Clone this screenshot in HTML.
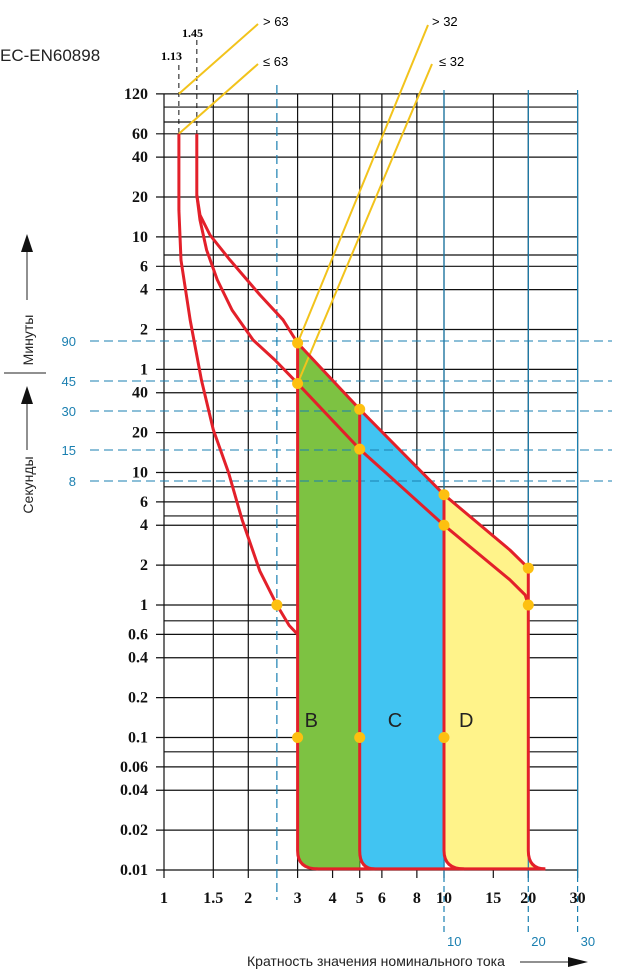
<!DOCTYPE html>
<html><head><meta charset="utf-8"><style>
html,body{margin:0;padding:0;background:#fff;}
svg{display:block;}
.yl{font-family:"Liberation Serif",serif;font-weight:bold;font-size:16px;fill:#111;}
.bl{font-family:"Liberation Sans",sans-serif;font-size:13px;fill:#1a7fb0;}
</style></head><body>
<svg id="chart" width="621" height="970" viewBox="0 0 621 970" xmlns="http://www.w3.org/2000/svg">
<g id="grid"></g>
<g id="fills"></g>
<g id="refs"></g>
<g id="curves"></g>
<g id="dots"></g>
<g id="labels"></g>
<text x="0" y="61" font-family="Liberation Sans, sans-serif" font-size="17" fill="#222">EC-EN60898</text>
<text x="161" y="60" font-family="Liberation Serif, serif" font-weight="bold" font-size="12">1.13</text>
<text x="182" y="37" font-family="Liberation Serif, serif" font-weight="bold" font-size="12">1.45</text>
<text x="263" y="26" font-family="Liberation Sans, sans-serif" font-size="13">&gt; 63</text>
<text x="263" y="66" font-family="Liberation Sans, sans-serif" font-size="13">≤ 63</text>
<text x="432" y="26" font-family="Liberation Sans, sans-serif" font-size="13">&gt; 32</text>
<text x="439" y="66" font-family="Liberation Sans, sans-serif" font-size="13">≤ 32</text>
<text transform="translate(33,340) rotate(-90)" text-anchor="middle" font-family="Liberation Sans, Noto Sans CJK JP, sans-serif" font-size="14" fill="#222">Минуты</text>
<text transform="translate(33,485) rotate(-90)" text-anchor="middle" font-family="Liberation Sans, Noto Sans CJK JP, sans-serif" font-size="14" fill="#222">Секунды</text>
<line x1="4" y1="373" x2="46" y2="373" stroke="#222" stroke-width="1"/>
<line x1="27" y1="300" x2="27" y2="245" stroke="#222"/>
<polygon points="21,252 33,252 27,234" fill="#111"/>
<line x1="27" y1="450" x2="27" y2="398" stroke="#222"/>
<polygon points="21,404 33,404 27,386" fill="#111"/>
<text x="247" y="966" font-family="Liberation Sans, Noto Sans CJK JP, sans-serif" font-size="14" fill="#222">Кратность значения номинального тока</text>
<line x1="520" y1="962" x2="570" y2="962" stroke="#222"/>
<polygon points="568,957 588,962 568,967" fill="#111"/>
</svg>
<script>
const xTicks=[1,1.5,2,3,4,5,6,8,10,15,20,30];
const xTickLabels=["1","1.5","2","3","4","5","6","8","10","15","20","30"];
const yTicks=[7200,3600,2400,1200,600,360,240,120,60,40,20,10,6,4,2,1,0.6,0.4,0.2,0.1,0.06,0.04,0.02,0.01];
const yTickLabels=["120","60","40","20","10","6","4","2","1","40","20","10","6","4","2","1","0.6","0.4","0.2","0.1","0.06","0.04","0.02","0.01"];
const yExtra=[5730,4420,438,7.8,4.7,0.76,0.078];
const refSec=[90,45,30,15,8];
const refSecPx=[341,381,411,450,481];
const refMult=[2.53,10,20,30];
const refMultLabels=["","10","20","30"];
const curveLeft=[[1.13,3600],[1.13,955],[1.15,400],[1.24,141],[1.36,50],[1.5,21],[1.7,10],[1.9,4.4],[2.2,1.8],[2.53,1],[2.8,0.7],[3,0.6]];
const curveUpper=[[1.31,3600],[1.31,1242],[1.345,877],[1.46,620],[1.72,402],[2.2,219],[2.66,142],[3,95],[5,30],[10,6.8],[17.2,2.6],[20,1.9]];
const curveLower=[[1.31,1242],[1.345,805],[1.42,478],[1.55,284],[1.75,168],[2.08,100],[2.49,70.6],[3,47],[5,15],[10,4],[17.2,1.55],[19.5,1.19],[20,1]];
const zoneB=[3,5], zoneC=[5,10], zoneD=[10,20];
const zoneLetters=["B","C","D"];
const dotPts=[[2.53,1],[3,95],[5,30],[10,6.8],[20,1.9],[3,47],[5,15],[10,4],[20,1],[3,0.1],[5,0.1],[10,0.1]];
const tMin=0.0102;

const NS="http://www.w3.org/2000/svg";
const X=v=>164+280*Math.log10(v);
const Y=s=>870-132.5*(Math.log10(s)+2);
function mk(parent,tag,attrs){const e=document.createElementNS(NS,tag);for(const k in attrs)e.setAttribute(k,attrs[k]);parent.appendChild(e);return e;}
const grid=document.getElementById('grid'),fills=document.getElementById('fills'),refs=document.getElementById('refs'),curves=document.getElementById('curves'),dots=document.getElementById('dots'),labels=document.getElementById('labels');
const xL=X(1),xR=X(30),yT=Y(7200),yB=Y(0.01);

yTicks.forEach((s,i)=>{
 const l=mk(grid,'line',{x1:xL-8,x2:xR,y1:Y(s),y2:Y(s),stroke:'#111','stroke-width':1.2});
 
 
 const t=mk(labels,'text',{x:xL-16,y:Y(s)+5,'text-anchor':'end',class:'yl'});
 t.textContent=yTickLabels[i];
 
 
});
yExtra.forEach(s=>{
 const l=mk(grid,'line',{x1:xL,x2:xR,y1:Y(s),y2:Y(s),stroke:'#111','stroke-width':1.2});
 
 
});
xTicks.forEach((v,i)=>{
 const l=mk(grid,'line',{x1:X(v),x2:X(v),y1:yT,y2:yB+8,stroke:'#111','stroke-width':1.2});
 
 
 const t=mk(labels,'text',{x:X(v),y:903,'text-anchor':'middle',class:'yl'});
 t.textContent=xTickLabels[i];
 
 
});

function P(v,s){return X(v).toFixed(1)+','+Y(s).toFixed(1);}
function seg(curve,a,b){return curve.filter(p=>p[0]>=a&&p[0]<=b).map(p=>P(p[0],p[1]));}
function zonePath(z,color,name,round){
 const top=seg(curveUpper,z[0],z[1]);
 let d='M'+top.join(' L');
 if(round){d+=' L'+P(z[1],0.014)+' Q'+P(z[1],tMin)+' '+P(z[1]*1.15,tMin);}
 else d+=' L'+P(z[1],tMin);
 d+=' L'+P(z[0]*1.18,tMin)+' Q'+P(z[0],tMin)+' '+P(z[0],0.014)+' Z';
 const p=mk(fills,'path',{d:d,fill:color});
 
 
}
zonePath(zoneB,'#7dc242','zone-b-fill',false);
zonePath(zoneC,'#41c4f2','zone-c-fill',false);
zonePath(zoneD,'#fff38a','zone-d-fill',true);

refSec.forEach((s,i)=>{
 const y=refSecPx[i];
 const l=mk(refs,'line',{x1:90,x2:612,y1:y,y2:y,stroke:'#1a7fb0','stroke-width':1,'stroke-dasharray':'9,5'});
 
 
 const t=mk(labels,'text',{x:76,y:y+5,'text-anchor':'end',class:'bl'});
 t.textContent=String(s);
 
 
});
refMult.forEach((v,i)=>{
 const x=X(v);
 const l=mk(refs,'line',{x1:x,x2:x,y1:i==0?85:90,y2:i==0?900:935,stroke:'#1a7fb0','stroke-width':1.2,'stroke-dasharray':i==0?'9,5':'none'});
 
 
 if(i>0){
  const l2=mk(refs,'line',{x1:x,x2:x,y1:yB+12,y2:935,stroke:'#fff','stroke-width':2,'stroke-dasharray':'4,6'});
  
  
  const t=mk(labels,'text',{x:x+3,y:946,class:'bl'});
  t.textContent=refMultLabels[i];
  
  
 }
});
[[curveLeft[0][0],65],[curveUpper[0][0],40]].forEach(a=>{
 const l=mk(refs,'line',{x1:X(a[0]),x2:X(a[0]),y1:a[1],y2:Y(3600),stroke:'#111','stroke-width':1,'stroke-dasharray':'5,4'});
 
 
});
function yl(x1,y1,x2,y2,name){const l=mk(refs,'line',{x1:x1,y1:y1,x2:x2,y2:y2,stroke:'#f2c31c','stroke-width':2});}
yl(X(1.13),Y(7200),258,24,'gt63-leader');
yl(X(1.13),Y(3600),258,64,'le63-leader');
yl(X(3),Y(95),428,25,'gt32-leader');
yl(X(3),Y(47),432,64,'le32-leader');

function poly(curve,name){
 const p=mk(curves,'path',{d:'M'+curve.map(q=>P(q[0],q[1])).join(' L'),fill:'none',stroke:'#e3202a','stroke-width':3,'stroke-linejoin':'round'});
 
 
}
poly(curveLeft,'curve-1-13');
poly(curveUpper,'curve-upper');
poly(curveLower,'curve-lower');
function vert(v,s,name,ext){
 const d='M'+P(v,s)+' L'+P(v,0.014)+' Q'+P(v,tMin)+' '+P(v*ext,tMin);
 const p=mk(curves,'path',{d:d,fill:'none',stroke:'#e3202a','stroke-width':3});
 
 
}
vert(3,95,'vertical-b',1.18);
vert(5,30,'vertical-c',1.13);
vert(10,6.8,'vertical-d',1.18);
vert(20,1.9,'vertical-20',1.15);
const bl=mk(curves,'line',{x1:X(3.5),x2:X(23),y1:Y(tMin),y2:Y(tMin),stroke:'#e3202a','stroke-width':3});



dotPts.forEach(p=>{
 const c=mk(dots,'circle',{cx:X(p[0]),cy:Y(p[1]),r:5.5,fill:'#fdc010'});
 
 
});
[zoneB,zoneC,zoneD].forEach((z,i)=>{
 const t=mk(labels,'text',{x:X(z[0])+(i==2?15:(i==0?7:28)),y:727,'font-family':'Liberation Sans, sans-serif','font-size':20,fill:'#222'});
 t.textContent=zoneLetters[i];
 
 
});
</script>
</body></html>
